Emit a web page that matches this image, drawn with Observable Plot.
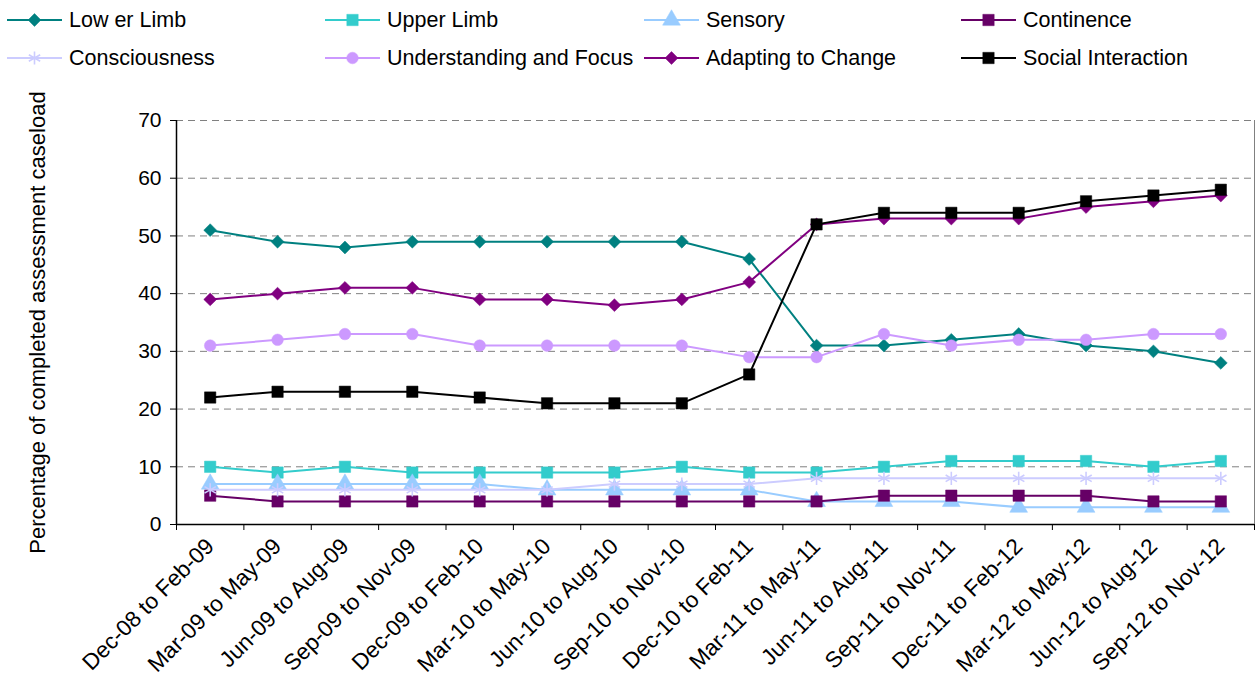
<!DOCTYPE html>
<html><head><meta charset="utf-8">
<script src="https://cdn.jsdelivr.net/npm/d3@7"></script>
<script src="https://cdn.jsdelivr.net/npm/@observablehq/plot@0.6"></script>
<style>
body{margin:0;background:#fff;font-family:"Liberation Sans",Arial,sans-serif;}
#legend{position:relative;width:1255px;height:80px;}
.item{position:absolute;display:flex;align-items:center;font-size:21.5px;color:#000;white-space:nowrap;height:30px;}
.item svg{margin-right:7px;overflow:visible}
</style></head><body>
<div id="legend"></div><div id="chart"></div>
<script>
const categories = ["Dec-08 to Feb-09","Mar-09 to May-09","Jun-09 to Aug-09","Sep-09 to Nov-09","Dec-09 to Feb-10","Mar-10 to May-10","Jun-10 to Aug-10","Sep-10 to Nov-10","Dec-10 to Feb-11","Mar-11 to May-11","Jun-11 to Aug-11","Sep-11 to Nov-11","Dec-11 to Feb-12","Mar-12 to May-12","Jun-12 to Aug-12","Sep-12 to Nov-12"];
const lowerLimb      = [51,49,48,49,49,49,49,49,46,31,31,32,33,31,30,28];
const upperLimb      = [10,9,10,9,9,9,9,10,9,9,10,11,11,11,10,11];
const sensory        = [7,7,7,7,7,6,6,6,6,4,4,4,3,3,3,3];
const continence     = [5,4,4,4,4,4,4,4,4,4,5,5,5,5,4,4];
const consciousness  = [6,6,6,6,6,6,7,7,7,8,8,8,8,8,8,8];
const understanding  = [31,32,33,33,31,31,31,31,29,29,33,31,32,32,33,33];
const adapting       = [39,40,41,41,39,39,38,39,42,52,53,53,53,55,56,57];
const social         = [22,23,23,23,22,21,21,21,26,52,54,54,54,56,57,58];
const yTicks = [0,10,20,30,40,50,60,70];

const seriesNames  = ["Low er Limb","Upper Limb","Sensory","Continence","Consciousness","Understanding and Focus","Adapting to Change","Social Interaction"];
const seriesValues = [lowerLimb,upperLimb,sensory,continence,consciousness,understanding,adapting,social];
const seriesColors = ["#008080","#33CCCC","#99CCFF","#660066","#CCCCFF","#CC99FF","#800080","#000000"];
const seriesSymbols= ["diamond2","square","triangle","square","asterisk","circle","diamond2","square"];
const seriesR      = [5.8,6.4,6.6,6.4,6.2,5.8,5.8,6.4];

const rows = seriesNames.flatMap((s, k) => seriesValues[k].map((v, i) => ({series: s, i, value: v})));

// Legend
const legendPos = [[7,5],[325,5],[644,5],[961,5],[7,43],[325,43],[644,43],[961,43]];
const symMap = {diamond2:d3.symbolDiamond2, square:d3.symbolSquare, triangle:d3.symbolTriangle, asterisk:d3.symbolAsterisk, circle:d3.symbolCircle};
const leg = d3.select("#legend");
seriesNames.forEach((s, k) => {
  const it = leg.append("div").attr("class","item").style("left", legendPos[k][0]+"px").style("top", legendPos[k][1]+"px");
  const sv = it.append("svg").attr("width",55).attr("height",30);
  sv.append("line").attr("x1",0).attr("x2",55).attr("y1",15).attr("y2",15).attr("stroke",seriesColors[k]).attr("stroke-width",2);
  const isStroke = seriesSymbols[k] === "asterisk";
  const r = seriesR[k];
  sv.append("path").attr("transform","translate(27.5,15)")
    .attr("d", d3.symbol(symMap[seriesSymbols[k]], Math.PI*r*r)())
    .attr("fill", isStroke ? "none" : seriesColors[k])
    .attr("stroke", seriesColors[k]).attr("stroke-width", isStroke ? 1.6 : 0.5);
  it.append("span").text(s);
});

const seriesMarks = seriesNames.flatMap((s, k) => {
  const d = rows.filter(r => r.series === s);
  const isStroke = seriesSymbols[k] === "asterisk";
  return [
    Plot.line(d, {x: "i", y: "value", stroke: seriesColors[k], strokeWidth: 2}),
    Plot.dot(d, {x: "i", y: "value", symbol: seriesSymbols[k], r: seriesR[k],
      fill: isStroke ? "none" : seriesColors[k], stroke: seriesColors[k], strokeWidth: isStroke ? 1.6 : 0.5})
  ];
});

const chart = Plot.plot({
  width: 1255, height: 600,
  marginLeft: 176, marginRight: 1, marginTop: 40, marginBottom: 156,
  style: {fontFamily: "Liberation Sans, Arial, sans-serif", fontSize: "21px", background: "white", color: "#000"},
  x: {type: "linear", domain: [-0.5, 15.5]},
  y: {domain: [0, 70]},
  marks: [
    Plot.gridY(yTicks.filter(t => t > 0), {stroke: "#808080", strokeOpacity: 1, strokeDasharray: "7,5", strokeWidth: 1}),
    Plot.ruleX([15.5], {stroke: "#808080", strokeWidth: 1}),
    Plot.axisY(yTicks, {tickSize: 6, tickPadding: 9, fontSize: 21, stroke: "#000", label: null}),
    Plot.axisY(yTicks, {tickSize: 0, tickFormat: () => "", fontSize: 22,
      label: "Percentage of completed assessment caseload", labelAnchor: "center", labelOffset: 147, labelArrow: "none"}),
    Plot.axisX(d3.range(-0.5, 16, 1), {tickSize: 6, tickFormat: () => "", label: null, stroke: "#000"}),
    Plot.axisX(d3.range(0, 16), {tickSize: 0, tickPadding: 18, tickRotate: -45, fontSize: 22.5,
      tickFormat: i => categories[i], label: null}),
    Plot.ruleX([-0.5], {stroke: "#000", strokeWidth: 1.5}),
    Plot.ruleY([0], {stroke: "#000", strokeWidth: 1.5}),
    ...seriesMarks
  ]
});
document.getElementById("chart").append(chart);
</script>
</body></html>
